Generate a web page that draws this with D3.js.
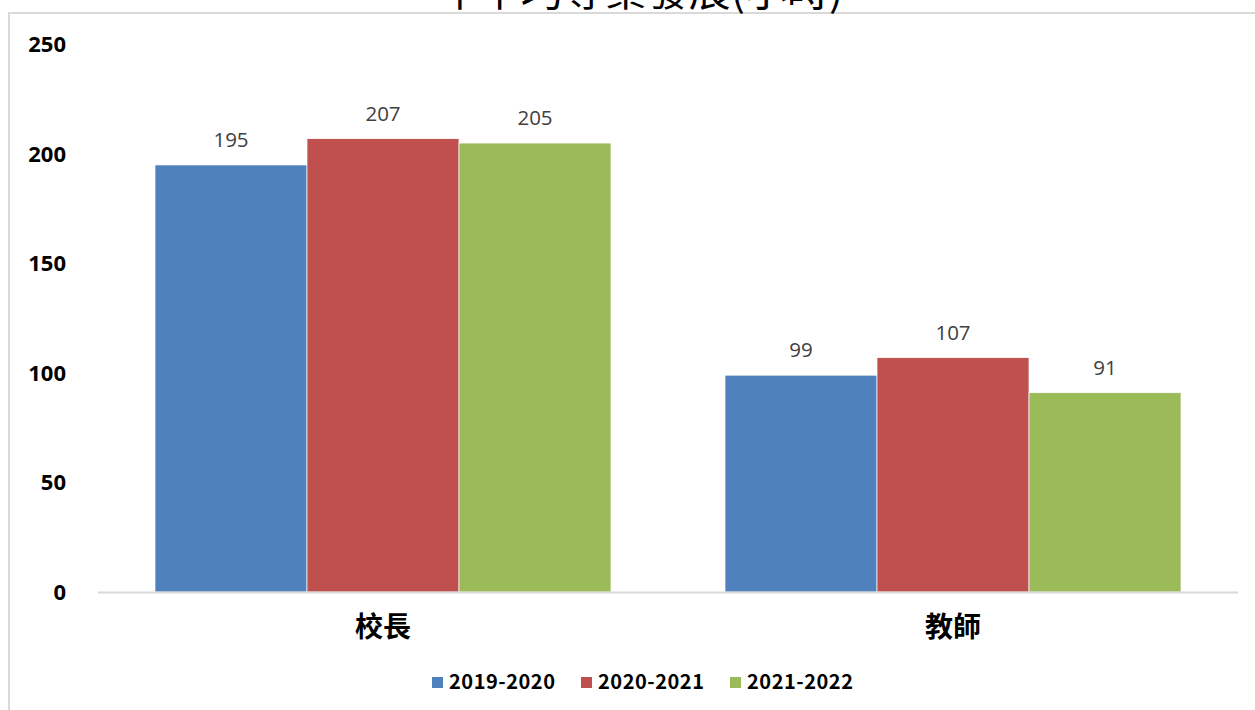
<!DOCTYPE html>
<html>
<head>
<meta charset="utf-8">
<script src="https://cdn.jsdelivr.net/npm/d3@7"></script>
<style>
  body { margin: 0; background: #fff; }
  svg { display: block; }
</style>
</head>
<body>
<svg id="chart" width="1255" height="710"></svg>
<script>
var categories = ['校長', '教師'];
var seriesNames = ['2019-2020', '2020-2021', '2021-2022'];
var seriesColors = ['#4F81BD', '#C0504D', '#9BBB59'];
var values = [
  [195, 207, 205],
  [99, 107, 91]
];
var yTicks = [0, 50, 100, 150, 200, 250];
var title = '年平均專業發展(小時)';

var svg = d3.select('#chart');

// outer frame (only top and left edges show in the window)
svg.append('rect')
  .attr('x', 9)
  .attr('y', 13)
  .attr('width', 1300)
  .attr('height', 760)
  .style('fill', 'none')
  .style('stroke', '#d9d9d9')
  .style('stroke-width', 2);

// title sits mostly above the frame and is cut off
svg.append('text')
  .attr('x', 640)
  .attr('y', 6)
  .style('text-anchor', 'middle')
  .style('font-family', '"Noto Sans CJK TC", sans-serif')
  .style('font-size', '42px')
  .style('fill', '#000')
  .text(title);

var x0 = d3.scaleBand()
  .domain(categories)
  .range([98, 1238]);

var groupW = x0.bandwidth() * 0.8;
var x1 = d3.scaleBand()
  .domain(seriesNames)
  .range([0, groupW]);

var y = d3.scaleLinear()
  .domain([0, 250])
  .range([592, 44.5]);

// y labels, no gridlines
svg.append('g').selectAll('text')
  .data(yTicks)
  .enter()
  .append('text')
    .attr('x', 66)
    .attr('y', function(d) { return y(d); })
    .attr('dy', '0.36em')
    .style('text-anchor', 'end')
    .style('font-family', '"Noto Sans", sans-serif')
    .style('font-weight', 'bold')
    .style('font-size', '22px')
    .style('fill', '#000')
    .text(function(d) { return d; });

// bars
var groups = svg.append('g').selectAll('g')
  .data(categories)
  .enter()
  .append('g')
    .attr('transform', function(d) {
      return 'translate(' + (x0(d) + (x0.bandwidth() - groupW) / 2) + ',0)';
    });

groups.selectAll('rect')
  .data(function(d, i) {
    return values[i].map(function(v, j) { return { s: seriesNames[j], v: v, c: seriesColors[j] }; });
  })
  .enter()
  .append('rect')
    .attr('x', function(d) { return x1(d.s); })
    .attr('y', function(d) { return y(d.v); })
    .attr('width', x1.bandwidth())
    .attr('height', function(d) { return y(0) - y(d.v); })
    .style('fill', function(d) { return d.c; })
    .style('stroke', '#fff')
    .style('stroke-width', 0.7);

groups.selectAll('text')
  .data(function(d, i) {
    return values[i].map(function(v, j) { return { s: seriesNames[j], v: v }; });
  })
  .enter()
  .append('text')
    .attr('x', function(d) { return x1(d.s) + x1.bandwidth() / 2; })
    .attr('y', function(d) { return y(d.v) - 18; })
    .style('text-anchor', 'middle')
    .style('font-family', '"Open Sans", sans-serif')
    .style('font-size', '20.5px')
    .style('fill', '#404040')
    .text(function(d) { return d.v; });

// baseline
svg.append('line')
  .attr('x1', 98)
  .attr('x2', 1238)
  .attr('y1', y(0) + 0.5)
  .attr('y2', y(0) + 0.5)
  .style('stroke', '#d9d9d9')
  .style('stroke-width', 2);

// category labels
svg.append('g').selectAll('text')
  .data(categories)
  .enter()
  .append('text')
    .attr('x', function(d) { return x0(d) + x0.bandwidth() / 2; })
    .attr('y', 637)
    .style('text-anchor', 'middle')
    .style('font-family', '"Noto Sans CJK TC", sans-serif')
    .style('font-weight', 'bold')
    .style('font-size', '28px')
    .style('fill', '#000')
    .text(function(d) { return d; });

// legend
var legend = svg.append('g').selectAll('g')
  .data(seriesNames)
  .enter()
  .append('g')
    .attr('transform', function(d, i) { return 'translate(' + (432 + i * 149) + ',677)'; });

legend.append('rect')
  .attr('width', 11)
  .attr('height', 11)
  .style('fill', function(d, i) { return seriesColors[i]; });

legend.append('text')
  .attr('x', 17)
  .attr('y', 12)
  .attr('textLength', 106)
  .attr('lengthAdjust', 'spacing')
  .style('font-family', '"Noto Sans CJK TC", sans-serif')
  .style('font-weight', 'bold')
  .style('font-size', '20px')
  .style('fill', '#000')
  .text(function(d) { return d; });
</script>
</body>
</html>
